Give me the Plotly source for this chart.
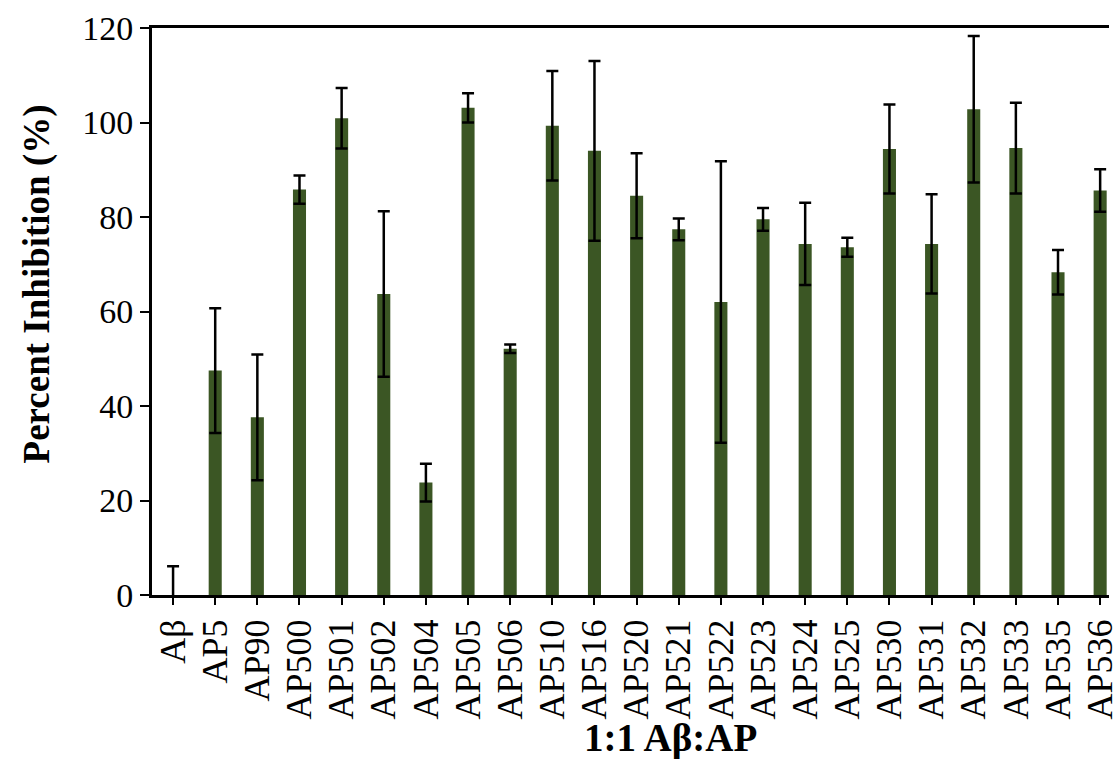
import plotly.graph_objects as go

# Compounds tested at a 1:1 ratio with Aβ
compounds = ["Aβ", "AP5", "AP90", "AP500", "AP501", "AP502", "AP504", "AP505",
             "AP506", "AP510", "AP516", "AP520", "AP521", "AP522", "AP523",
             "AP524", "AP525", "AP530", "AP531", "AP532", "AP533", "AP535", "AP536"]

# Mean percent inhibition
inhibition = [0.0, 47.5, 37.6, 85.8, 100.9, 63.7, 23.8, 103.1,
              52.1, 99.3, 94.0, 84.5, 77.4, 62.0, 79.5,
              74.3, 73.6, 94.4, 74.3, 102.8, 94.6, 68.3, 85.6]

# Standard deviation
std_dev = [6.1, 13.2, 13.3, 3.0, 6.4, 17.5, 4.0, 3.1,
           0.9, 11.6, 19.0, 9.0, 2.3, 29.8, 2.4,
           8.7, 2.0, 9.4, 10.5, 15.5, 9.6, 4.7, 4.5]

y_ticks = [0, 20, 40, 60, 80, 100, 120]

serif = "Liberation Serif, Times New Roman, serif"
bar_color = "#3b5624"

fig = go.Figure()
fig.add_trace(go.Bar(
    x=list(range(len(compounds))),
    y=inhibition,
    width=0.31,
    marker=dict(color=bar_color, line=dict(width=0)),
    error_y=dict(type="data", array=std_dev, visible=True,
                 color="black", thickness=2.5, width=6),
    showlegend=False,
))

fig.update_layout(
    width=1120,
    height=759,
    margin=dict(l=152, r=0, t=28, b=164),
    paper_bgcolor="white",
    plot_bgcolor="white",
    font=dict(family=serif, color="black"),
    xaxis=dict(
        range=[-0.5, 22.21],
        tickmode="array",
        tickvals=list(range(len(compounds))),
        ticktext=compounds,
        tickangle=-90,
        tickfont=dict(size=36, family=serif),
        ticklabeloverflow="allow",
        ticks="outside",
        ticklen=7,
        tickwidth=2,
        tickcolor="black",
        showline=True,
        linewidth=3,
        linecolor="black",
        mirror=True,
        showgrid=False,
        zeroline=False,
    ),
    yaxis=dict(
        range=[0, 120],
        tickvals=y_ticks,
        tickfont=dict(size=34, family=serif),
        ticks="outside",
        ticklen=9,
        tickwidth=2,
        tickcolor="black",
        showline=True,
        linewidth=3,
        linecolor="black",
        showgrid=False,
        zeroline=False,
    ),
    # inner half of the crossing tick marks on the value axis
    yaxis2=dict(
        range=[0, 120],
        tickvals=y_ticks,
        overlaying="y",
        anchor="x",
        side="left",
        ticks="inside",
        ticklen=8,
        tickwidth=2,
        tickcolor="black",
        showticklabels=False,
        showline=False,
        showgrid=False,
        zeroline=False,
    ),
    annotations=[
        dict(text="<b>1:1 Aβ:AP</b>", xref="paper", yref="paper",
             x=0.542, y=-0.252, xanchor="center", yanchor="middle",
             showarrow=False, font=dict(size=39, family=serif)),
        dict(text="<b>Percent Inhibition (%)</b>", xref="paper", yref="paper",
             x=-0.12, y=0.548, xanchor="center", yanchor="middle",
             textangle=-90, showarrow=False, font=dict(size=37, family=serif)),
    ],
)

fig.write_html("out.html")
